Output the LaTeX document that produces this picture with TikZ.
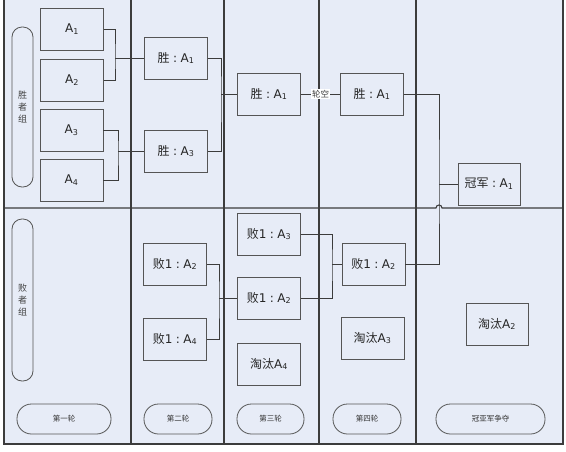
\documentclass[tikz,border=0pt]{standalone}
\usepackage{fontspec}
\setmainfont{DejaVu Sans}
\newfontfamily\cjk{Noto Sans CJK SC}
\usetikzlibrary{
  positioning,  % not much used, boxes sit at coordinates
  backgrounds,
}
\newcommand{\am}[1]{A\textsubscript{#1}}
\newcommand{\zh}[1]{{\cjk #1}}
\newcommand{\cl}{\hspace{3.5pt}:\hspace{3.5pt}}
\def\myboxw{63pt}
\def\myboxh{42pt}
\def\mypillw{21pt}
\definecolor{panelbg}{RGB}{231,236,247}
\definecolor{linegray}{RGB}{60,60,60}
\definecolor{boxgray}{RGB}{85,85,85}
\tikzset{
  semithick,
  my frame/.style={
    draw=linegray,
    line width=1.1pt
  },
  my link/.style={
    draw=linegray,
    line width=0.8pt
  },
  my box/.style={
    draw=boxgray,
    fill=panelbg,
    line width=0.8pt,
    minimum width=\myboxw,
    minimum height=\myboxh,
    inner sep=0pt,
    text=black!85,
    font=\fontsize{12}{14}\selectfont
  },
  my side pill/.style={
    draw=boxgray,
    line width=0.8pt,
    minimum width=\mypillw,
    rounded corners=10pt,
    inner sep=0pt,
    align=center,
    text=black!75,
    font=\cjk\fontsize{9}{12}\selectfont
  },
  my round pill/.style={
    draw=boxgray,
    line width=0.8pt,
    minimum height=30pt,
    rounded corners=14.5pt,
    inner sep=0pt,
    text=black!80,
    font=\cjk\fontsize{7.5}{8}\selectfont
  },
  gap label/.style={
    fill=white,
    inner sep=0.6pt,
    text=black!75,
    font=\cjk\fontsize{8.5}{9}\selectfont
  }
}

\begin{document}
\begin{tikzpicture}[x=1pt,y=-1pt]
\useasboundingbox (0,0) rectangle (566,451);
% panel and grid
\fill[panelbg] (4,0) rectangle (563,444);
\draw[my frame] (4,0) -- (4,444) -- (563,444) -- (563,0);
\foreach \x in {131,224,319,416}
  \draw[my frame] (\x,0) -- (\x,444);
\draw[my frame] (4,208) -- (436,208) arc (180:360:3) -- (563,208);

% group pills
\node[my side pill,minimum height=160pt] (win) at (22.5,107) {胜\\者\\组};
\node[my side pill,minimum height=162pt] (lose) at (22.5,300) {败\\者\\组};

% round 1
\node[my box] (a1) at (72,29.5) {\am1};
\node[my box] (a2) at (72,80)   {\am2};
\node[my box] (a3) at (71.5,130) {\am3};
\node[my box] (a4) at (71.5,180.5) {\am4};

% round 2
\node[my box] (w2a) at (176,58)  {\zh{胜}\cl\am1};
\node[my box] (w2b) at (176,151) {\zh{胜}\cl\am3};
\node[my box] (l2a) at (175,264) {\zh{败}1\cl\am2};
\node[my box] (l2b) at (175,339) {\zh{败}1\cl\am4};

% round 3
\node[my box] (w3)  at (269,94)  {\zh{胜}\cl\am1};
\node[my box] (l3a) at (269,234) {\zh{败}1\cl\am3};
\node[my box] (l3b) at (269,298) {\zh{败}1\cl\am2};
\node[my box] (e3)  at (269,364) {\zh{淘汰}\am4};

% round 4
\node[my box] (w4)  at (372,94)    {\zh{胜}\cl\am1};
\node[my box] (l4)  at (373.5,264) {\zh{败}1\cl\am2};
\node[my box] (e4)  at (372.5,338) {\zh{淘汰}\am3};

% final
\node[my box,minimum width=62pt] (champ) at (489,184) {\zh{冠军}\cl\am1};
\node[my box,minimum width=62pt] (e5)    at (497,324) {\zh{淘汰}\am2};

% junctions
\coordinate (j1) at (115,58);
\coordinate (j2) at (118,151);
\coordinate (j3) at (221,94);
\coordinate (j4) at (219,298);
\coordinate (j5) at (332,264);
\coordinate (j6) at (439,184);

\draw[my link] (a1.east) -| (j1) |- (a2.east);
\draw[my link] (j1) -- (w2a.west);
\draw[my link] (a3.east) -| (j2) |- (a4.east);
\draw[my link] (j2) -- (w2b.west);
\draw[my link] (w2a.east) -| (j3) |- (w2b.east);
\draw[my link] (j3) -- (w3.west);
\draw[my link] (l2a.east) -| (j4) |- (l2b.east);
\draw[my link] (j4) -- (l3b.west);
\draw[my link] (l3a.east) -| (j5) |- (l3b.east);
\draw[my link] (j5) -- (l4.west);
\draw[my link] (w3.east) -- node[gap label]{轮空} (w4.west);
\draw[my link] (w4.east) -| (j6) |- (l4.east);
\draw[my link] (j6) -- (champ.west);

% round labels
\node[my round pill,minimum width=94pt]  (r1) at (64,419)    {第一轮};
\node[my round pill,minimum width=68pt]  (r2) at (178,419)   {第二轮};
\node[my round pill,minimum width=67pt]  (r3) at (270.5,419) {第三轮};
\node[my round pill,minimum width=68pt]  (r4) at (367,419)   {第四轮};
\node[my round pill,minimum width=109pt] (r5) at (490.5,419) {冠亚军争夺};
\end{tikzpicture}
\end{document}
